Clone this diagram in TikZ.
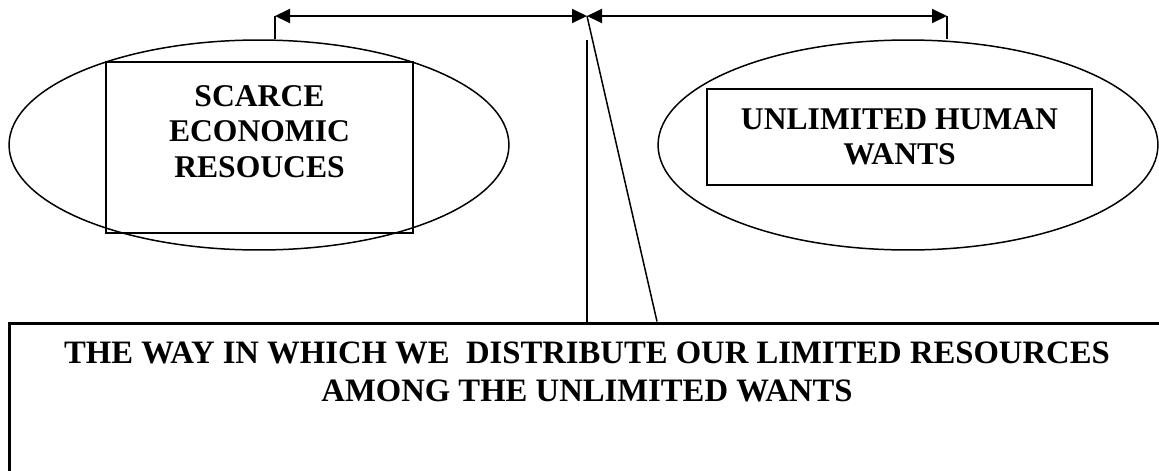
\documentclass[tikz,border=0pt]{standalone}
\usepackage{fontspec}
\setmainfont{Liberation Serif}
\usetikzlibrary{shapes.geometric,arrows.meta}

\tikzset{
  oval/.style={ellipse, draw, line width=0.85pt, inner sep=0pt, minimum width=10cm, minimum height=4.2cm},
  textbox/.style={rectangle, draw, line width=1.3pt, align=center, inner sep=0pt, font=\bfseries\fontsize{18}{20}\selectfont},
  span/.style={line width=1.1pt, {Triangle[length=0.3cm,width=0.28cm]}-{Triangle[length=0.3cm,width=0.28cm]}},
  link/.style={line width=0.85pt},
}

\begin{document}
\begin{tikzpicture}[x=0.02cm,y=-0.02cm]
\useasboundingbox (0,0) rectangle (1159,470);

% the two sides of the problem
\node (resources) [oval] at (259,145) {};
\node (wants) [oval] at (908,145) {};
\node (scarce) [textbox, minimum width=6.14cm, minimum height=3.42cm, text depth=0.64cm] at (259.5,147.5) {SCARCE\\ECONOMIC\\RESOUCES};
\node (unlimited) [textbox, minimum width=7.7cm, minimum height=1.92cm] at (899.5,137) {UNLIMITED HUMAN\\WANTS};

% what economics is about
\node (problem) [textbox, line width=1.7pt, font=\bfseries\fontsize{18.6}{22.1}\selectfont, minimum width=23.12cm, minimum height=3.14cm, text depth=1.19cm] at (587,401.5) {THE WAY IN WHICH WE\ \ DISTRIBUTE OUR LIMITED RESOURCES\\AMONG THE UNLIMITED WANTS};

\coordinate (lefttick) at (275,16);
\coordinate (split) at (587,16);
\coordinate (righttick) at (947,16);
\coordinate (stem) at (587,40);
\coordinate (slant) at (657,323);

\draw[span] (lefttick) -- (split);
\draw[span] (split) -- (righttick);
\draw[line width=1.1pt] (lefttick) -- (lefttick |- resources.north);
\draw[line width=1.1pt] (righttick) -- (righttick |- wants.north);
\draw[link] (stem) -- (stem |- problem.north);
\draw[link] (split) -- (problem.north -| slant);
\end{tikzpicture}
\end{document}
